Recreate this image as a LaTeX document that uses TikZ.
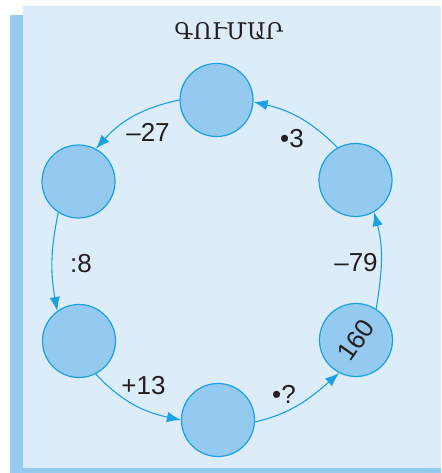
\documentclass[tikz,border=0pt]{standalone}
\usepackage{fontspec}
\setmainfont{Liberation Sans}
\newfontfamily\armfont{DejaVu Serif}
\usetikzlibrary{arrows.meta}
\definecolor{bglight}{RGB}{220,237,249}
\definecolor{stripe}{RGB}{149,203,239}
\definecolor{cfill}{RGB}{148,202,239}
\definecolor{cline}{RGB}{27,161,226}
\definecolor{ink}{RGB}{35,31,32}
\begin{document}
\begin{tikzpicture}[x=1pt,y=1pt,
  numcircle/.style={circle,draw=cline,fill=cfill,line width=1.2pt,minimum size=73pt,inner sep=0pt},
  conn/.style={draw=cline,line width=1.1pt,-{Latex[length=14pt,width=10.5pt]}},
  oplabel/.style={text=ink,font=\fontsize{26}{30}\selectfont,inner sep=0pt}]
\useasboundingbox (0,0) rectangle (441,473);
\fill[stripe] (10,0) rectangle (441,458);
\fill[bglight] (23,5) rectangle (441,467);
\node[text=ink,font=\armfont\fontsize{23}{27}\selectfont,inner sep=0pt] (title) at (229,441.5) {ԳՈՒՄԱՐ};
\node[numcircle] (T) at (216.5,373) {};
\node[numcircle] (LU) at (78.5,291.5) {};
\node[numcircle] (LL) at (79,132) {};
\node[numcircle] (B) at (218,53) {};
\node[numcircle] (RL) at (356,133) {};
\node[numcircle] (RU) at (355.5,293) {};
\node[oplabel,rotate=55,inner sep=0pt] (v160) at (RL.center) {160};
\draw[conn] (T.180) to[out=192,in=48] (LU.62);
\draw[conn] (LU.237) to[out=258,in=100] (LL.126);
\draw[conn] (LL.297) to[out=313,in=168] (B.180);
\draw[conn] (B.357) to[out=13,in=221] (RL.243);
\draw[conn] (RL.57) to[out=81,in=285] (RU.300);
\draw[conn] (RU.119) to[out=135,in=347] (T.357);
\node[oplabel] (l27) at (148,341) {–27};
\node[oplabel] (l3) at (292,334.5) {•3};
\node[oplabel] (l8) at (81,209.5) {:8};
\node[oplabel] (l79) at (356,210) {–79};
\node[oplabel] (l13) at (143.5,87.5) {+13};
\node[oplabel] (lq) at (284,79) {•?};
\end{tikzpicture}
\end{document}
